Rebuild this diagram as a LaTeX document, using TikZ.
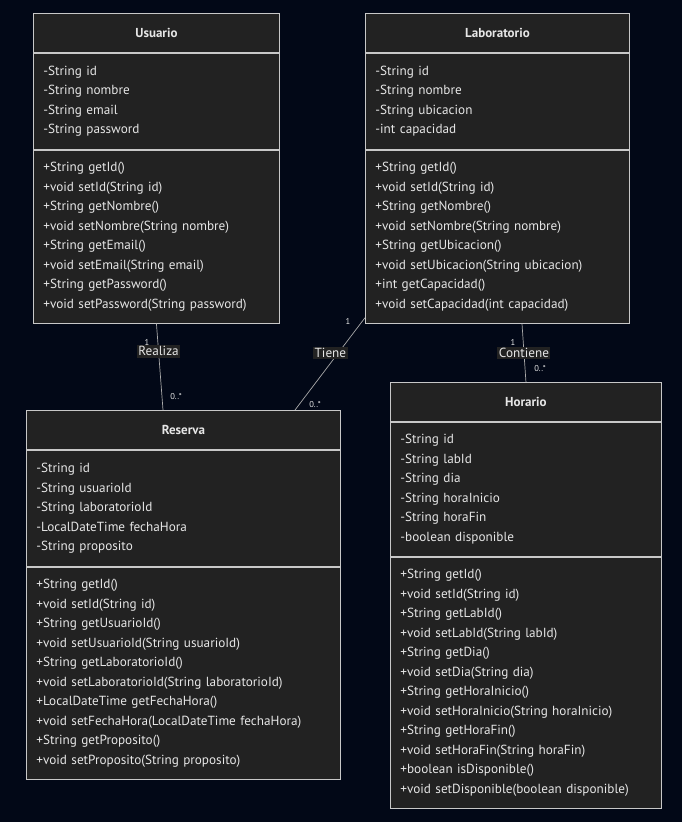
\documentclass[tikz,border=0pt]{standalone}
\usepackage{fontspec}
\setmainfont{PT Sans}
\usetikzlibrary{positioning}
\definecolor{bgcol}{HTML}{020817}
\definecolor{boxcol}{HTML}{222222}
\definecolor{edgecol}{HTML}{C8C8C8}
\definecolor{txtcol}{HTML}{E6E6E6}
\tikzset{
  head/.style={draw=edgecol, fill=boxcol, text=txtcol, line width=0.9pt,
    font=\fontsize{13}{15}\selectfont\bfseries, anchor=north west,
    minimum height=39pt, inner sep=0pt},
  part/.style={draw=edgecol, fill=boxcol, text=txtcol, line width=0.9pt,
    font=\fontsize{13.2}{19.5}\selectfont, align=left, anchor=north,
    inner xsep=10pt, inner ysep=0pt, below=0pt},
  link/.style={draw=edgecol!85!black, line width=0.7pt},
  lbl/.style={fill=boxcol, text=txtcol, font=\fontsize{13.2}{15}\selectfont,
    inner sep=1.5pt},
  mult/.style={text=txtcol, font=\fontsize{8.5}{10}\selectfont, inner sep=0pt}
}

\begin{document}
\begin{tikzpicture}[x=1pt, y=-1pt]
\fill[bgcol] (0,0) rectangle (682,822);
\useasboundingbox (0,0) rectangle (682,822);

% Usuario
\node[head, minimum width=246pt] (usuario) at (33,13) {Usuario};
\node[part, below=0pt of usuario, text width=226pt, minimum height=96pt] (usuarioattr)
  {-String id\\-String nombre\\-String email\\-String password};
\node[part, below=0pt of usuarioattr, text width=226pt, minimum height=173pt] (usuariometh)
  {+String getId()\\+void setId(String id)\\+String getNombre()\\+void setNombre(String nombre)\\
   +String getEmail()\\+void setEmail(String email)\\+String getPassword()\\+void setPassword(String password)};

% Laboratorio
\node[head, minimum width=264pt] (lab) at (365,13) {Laboratorio};
\node[part, below=0pt of lab, text width=244pt, minimum height=96pt] (labattr)
  {-String id\\-String nombre\\-String ubicacion\\-int capacidad};
\node[part, below=0pt of labattr, text width=244pt, minimum height=173pt] (labmeth)
  {+String getId()\\+void setId(String id)\\+String getNombre()\\+void setNombre(String nombre)\\
   +String getUbicacion()\\+void setUbicacion(String ubicacion)\\+int getCapacidad()\\+void setCapacidad(int capacidad)};

% Reserva
\node[head, minimum width=314pt] (reserva) at (26,410) {Reserva};
\node[part, below=0pt of reserva, text width=294pt, minimum height=116pt] (reservaattr)
  {-String id\\-String usuarioId\\-String laboratorioId\\-LocalDateTime fechaHora\\-String proposito};
\node[part, below=0pt of reservaattr, text width=294pt, minimum height=212pt] (reservameth)
  {+String getId()\\+void setId(String id)\\+String getUsuarioId()\\+void setUsuarioId(String usuarioId)\\
   +String getLaboratorioId()\\+void setLaboratorioId(String laboratorioId)\\+LocalDateTime getFechaHora()\\
   +void setFechaHora(LocalDateTime fechaHora)\\+String getProposito()\\+void setProposito(String proposito)};

% Horario
\node[head, minimum width=271pt] (horario) at (390,382) {Horario};
\node[part, below=0pt of horario, text width=251pt, minimum height=134pt] (horarioattr)
  {-String id\\-String labId\\-String dia\\-String horaInicio\\-String horaFin\\-boolean disponible};
\node[part, below=0pt of horarioattr, text width=251pt, minimum height=251pt] (horariometh)
  {+String getId()\\+void setId(String id)\\+String getLabId()\\+void setLabId(String labId)\\
   +String getDia()\\+void setDia(String dia)\\+String getHoraInicio()\\+void setHoraInicio(String horaInicio)\\
   +String getHoraFin()\\+void setHoraFin(String horaFin)\\+boolean isDisponible()\\+void setDisponible(boolean disponible)};

% relaciones
\draw[link] (usuariometh.south) -- ([xshift=137pt]reserva.north west)
  node[lbl, pos=0.32] (realiza) {Realiza};
\draw[link] ([yshift=6pt]labmeth.south west) -- ([xshift=269pt]reserva.north west)
  node[lbl, pos=0.38, xshift=-8pt] (tiene) {Tiene};
\draw[link] ([xshift=157pt]labmeth.south west) -- (horario.north)
  node[lbl, pos=0.5] (contiene) {Contiene};

\node[mult] (m1) at (147,342) {1};
\node[mult] (m2) at (176,397) {0..*};
\node[mult] (m3) at (348,321) {1};
\node[mult] (m4) at (315,405) {0..*};
\node[mult] (m5) at (513,342) {1};
\node[mult] (m6) at (540,369) {0..*};
\end{tikzpicture}
\end{document}
